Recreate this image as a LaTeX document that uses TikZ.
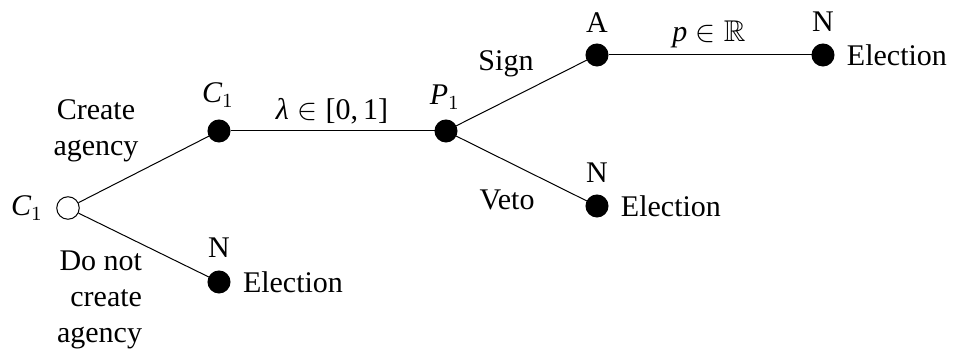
\documentclass[tikz,border=0pt]{standalone}
\usepackage{amssymb}
\usepackage{fontspec}
\setmainfont{Liberation Serif}
\usetikzlibrary{positioning}
\newcommand{\pvar}[1]{\textit{#1}}
\tikzset{
  every picture/.style={line width=0.4pt},
  dot/.style={circle, draw, fill=black, minimum size=8.8pt, inner sep=0pt},
  opendot/.style={circle, draw, fill=white, minimum size=9pt, inner sep=0pt},
  lbl/.style={font=\fontsize{12}{14.5}\selectfont, inner sep=1pt},
}

\begin{document}
\begin{tikzpicture}[x=0.4pt, y=-0.4pt]
  \useasboundingbox (0,0) rectangle (956,351);
  % decision nodes (pixel grid, y downwards)
  \node[opendot] (root) at (68,208) {};
  \node[dot] (c1) at (219,131) {};
  \node[dot] (p1) at (446,131) {};
  \node[dot] (a) at (597,55) {};
  \node[dot] (nsign) at (823,55) {};
  \node[dot] (nveto) at (597,206) {};
  \node[dot] (nnot) at (219,282) {};
  % branches
  \draw (root) -- (c1);
  \draw (root) -- (nnot);
  \draw (c1) -- (p1);
  \draw (p1) -- (a);
  \draw (p1) -- (nveto);
  \draw (a) -- (nsign);
  % players
  \node[lbl] (root-who) at (27,208) {$\pvar{C}_1$};
  \node[lbl] (c1-who) at (218,95) {$\pvar{C}_1$};
  \node[lbl] (p1-who) at (445,97) {$\pvar{P}_1$};
  \node[lbl, anchor=base] (a-who) at (597,33) {A};
  \node[lbl, anchor=base] (nsign-who) at (823,32) {N};
  \node[lbl, anchor=base] (nveto-who) at (597,183) {N};
  \node[lbl, anchor=base] (nnot-who) at (219,258) {N};
  % actions
  \node[lbl, align=center] (create) at (96,131) {Create\\agency};
  \node[lbl, align=right, anchor=east] (donot) at (145,300) {Do not\\create\\agency};
  \node[lbl] (lambda) at (332,111) {$\pvar{λ}\in\mbox{[0,\,1]}$};
  \node[lbl, anchor=base] (sign) at (506,71) {Sign};
  \node[lbl, anchor=base] (veto) at (507,210) {Veto};
  \node[lbl] (price) at (709,34) {$\pvar{p}\in\mathbb{R}$};
  % outcomes
  \node[lbl, anchor=base west] (nsign-end) at (844,66) {Election};
  \node[lbl, anchor=base west] (nveto-end) at (618,217) {Election};
  \node[lbl, anchor=base west] (nnot-end) at (240,293) {Election};
\end{tikzpicture}
\end{document}
